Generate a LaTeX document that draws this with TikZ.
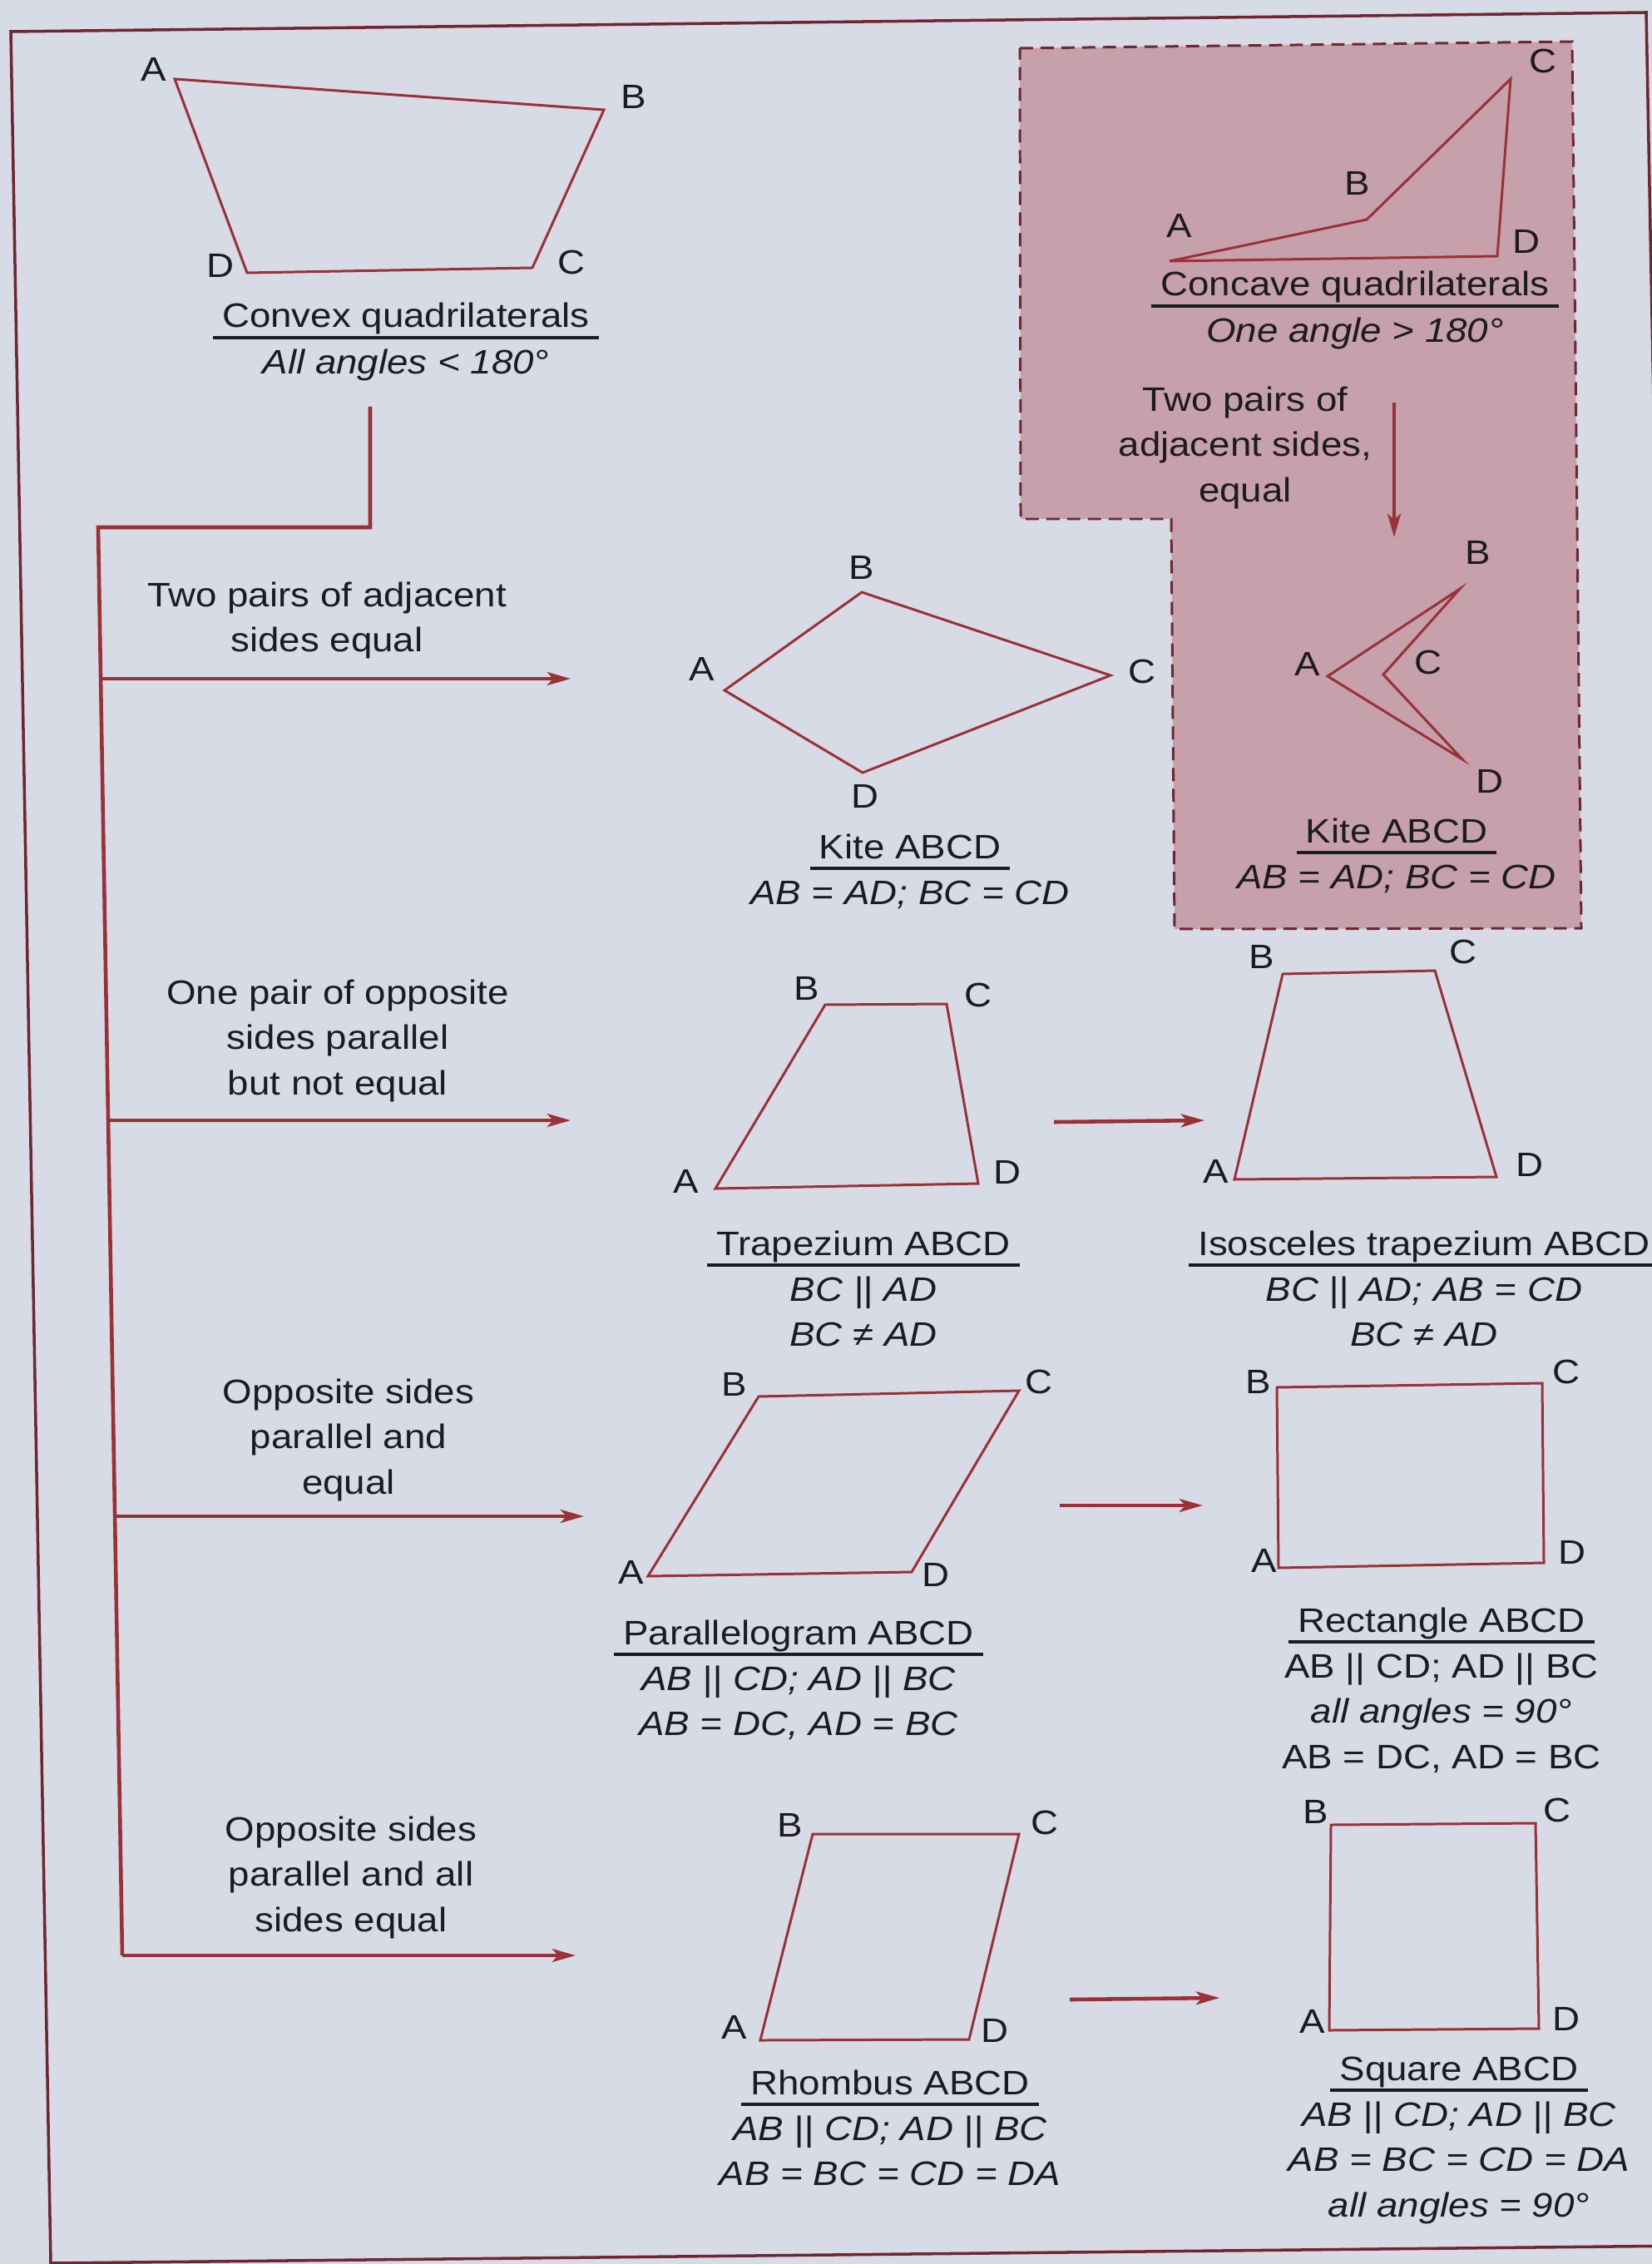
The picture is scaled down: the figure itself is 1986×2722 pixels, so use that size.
\documentclass[tikz,border=0pt]{standalone}
\usepackage{fontspec}
\setmainfont{Liberation Sans}[FakeStretch=1.12]
\usepackage{tikz}
\usetikzlibrary{arrows.meta, calc, positioning}

\definecolor{redline}{RGB}{155,48,55}
\definecolor{darkred}{RGB}{112,38,50}
\definecolor{paper}{RGB}{215,219,230}
\definecolor{pinkfill}{RGB}{198,160,170}
\definecolor{ink}{RGB}{28,28,32}

\tikzset{
  shapeline/.style={redline, line width=0.85pt},
  flow/.style={redline, line width=1.3pt},
  flowarrow/.style={flow, -{Stealth[length=8pt,width=4.5pt,inset=2pt]}},
  frameline/.style={darkred, line width=1pt},
  concavebox/.style={fill=pinkfill, draw=darkred, line width=0.85pt, dash pattern=on 4.5pt off 2.6pt},
  vlabel/.style={text=ink, inner sep=0pt},
  captitle/.style={text=ink, inner sep=0pt, anchor=base},
  capbody/.style={text=ink, inner sep=0pt, anchor=north, align=center},
  caprule/.style={ink, line width=0.9pt},
  branchtext/.style={text=ink, inner sep=0pt, align=center},
}

% quadrilateral ABCD: name, four vertices, four label positions
\newcommand{\quadfig}[9]{%
  \coordinate (#1A) at (#2); \coordinate (#1B) at (#3);
  \coordinate (#1C) at (#4); \coordinate (#1D) at (#5);
  \draw[shapeline] (#1A) -- (#1B) -- (#1C) -- (#1D) -- cycle;
  \node[vlabel] (#1a) at (#6) {A};
  \node[vlabel] (#1b) at (#7) {B};
  \node[vlabel] (#1c) at (#8) {C};
  \node[vlabel] (#1d) at (#9) {D};
}

% caption: name, baseline of title, title, lines under the rule
\newcommand{\shapecap}[4]{%
  \node[captitle] (#1) at (#2) {#3};
  \draw[caprule] ([shift={(-3pt,-3.4pt)}]#1.base west) -- ([shift={(3pt,-3.4pt)}]#1.base east);
  \node[capbody] (#1body) at ([yshift=-4.65pt]#1.base) {\strut#4};
}

\begin{document}
\begin{tikzpicture}[x=0.01cm, y=-0.01cm, font=\fontsize{11.6}{15.5}\selectfont]
    \useasboundingbox (0,0) rectangle (1986,2722);
    \clip (0,0) rectangle (1986,2722);
    \fill[paper] (0,0) rectangle (1986,2722);

    % Shaded block of the concave quadrilaterals
    \draw[concavebox] (1226,58) -- (1890,50) -- (1901,1116) -- (1412,1117)
        -- (1408,624) -- (1227,624) -- cycle;

    % Page frame
    \draw[frameline] (13,38) -- (1979,15) -- (2030,2700) -- (61,2721) -- cycle;

    % Convex and concave quadrilaterals
    \quadfig{cv}{210,95}{726,132}{640,322}{297,328}{185,83}{762,116}{687,315}{265,319}
    \shapecap{cvcap}{488,394}{Convex quadrilaterals}{\textit{All angles < 180°}}

    \quadfig{cc}{1406,314}{1643,264}{1816,95}{1800,308}{1418,271}{1632,220}{1855,73}{1835,290}
    \shapecap{cccap}{1629,356}{Concave quadrilaterals}{\textit{One angle > 180°}}

    % Kites
    \quadfig{kt}{871,830}{1036,712}{1335,812}{1037,929}{844,804}{1036,682}{1373,807}{1040,957}
    \shapecap{ktcap}{1094,1032}{Kite ABCD}{\textit{AB = AD; BC = CD}}

    \quadfig{ck}{1596,813}{1755,708}{1663,811}{1758,913}{1572,798}{1777,664}{1717,796}{1791,939}
    \shapecap{ckcap}{1679,1013}{Kite ABCD}{\textit{AB = AD; BC = CD}}

    % Trapeziums
    \quadfig{tz}{860,1429}{992,1208}{1138,1207}{1176,1423}{825,1420}{970,1188}{1176,1196}{1211,1409}
    \shapecap{tzcap}{1038,1509}{Trapezium ABCD}{\textit{BC || AD}\\\textit{BC ≠ AD}}

    \quadfig{it}{1484,1418}{1542,1171}{1725,1167}{1799,1415}{1462,1408}{1517,1150}{1759,1144}{1839,1400}
    \shapecap{itcap}{1712,1509}{Isosceles trapezium ABCD}{\textit{BC || AD; AB = CD}\\\textit{BC ≠ AD}}

    % Parallelogram and rectangle
    \quadfig{pg}{779,1895}{912,1679}{1225,1672}{1096,1890}{759,1890}{883,1664}{1249,1661}{1125,1893}
    \shapecap{pgcap}{960,1977}{Parallelogram ABCD}{\textit{AB || CD; AD || BC}\\\textit{AB = DC, AD = BC}}

    \quadfig{rc}{1537,1885}{1535,1668}{1854,1663}{1856,1879}{1520,1876}{1513,1661}{1883,1649}{1890,1866}
    \shapecap{rccap}{1733,1962}{Rectangle ABCD}{AB || CD; AD || BC\\\textit{all angles = 90°}\\AB = DC, AD = BC}

    % Rhombus and square
    \quadfig{rh}{914,2453}{977,2205}{1225,2205}{1165,2452}{883,2437}{950,2194}{1256,2191}{1196,2441}
    \shapecap{rhcap}{1070,2518}{Rhombus ABCD}{\textit{AB || CD; AD || BC}\\\textit{AB = BC = CD = DA}}

    \quadfig{sq}{1598,2441}{1600,2194}{1846,2192}{1850,2439}{1578,2430}{1582,2178}{1872,2176}{1883,2427}
    \shapecap{sqcap}{1754,2501}{Square ABCD}{\textit{AB || CD; AD || BC}\\\textit{AB = BC = CD = DA}\\\textit{all angles = 90°}}

    % Flow lines from the convex quadrilaterals
    \coordinate (fork) at (445,489);
    \coordinate (bend) at (445,634);
    \coordinate (trunktop) at (118,634);
    \coordinate (trunkend) at (147,2351);
    \coordinate (br1) at (121,816);   \coordinate (tip1) at (686,816);
    \coordinate (br2) at (130,1347);  \coordinate (tip2) at (686,1347);
    \coordinate (br3) at (138,1823);  \coordinate (tip3) at (702,1823);
    \coordinate (tip4) at (692,2351);

    \draw[flow] (fork) -- (bend) -- (trunktop) -- (trunkend);
    \draw[flowarrow] (br1) -- (tip1);
    \draw[flowarrow] (br2) -- (tip2);
    \draw[flowarrow] (br3) -- (tip3);
    \draw[flowarrow] (trunkend) -- (tip4);

    % Branch labels
    \node[branchtext] (adjtext) at (393,746) {Two pairs of adjacent\\sides equal};
    \node[branchtext] (onepair) at (406,1251) {One pair of opposite\\sides parallel\\but not equal};
    \node[branchtext] (oppeq) at (419,1731) {Opposite sides\\parallel and\\equal};
    \node[branchtext] (allsides) at (422,2257) {Opposite sides\\parallel and all\\sides equal};

    % Arrows between shapes
    \coordinate (ccout) at (1676,484);  \coordinate (ckin) at (1676,646);
    \coordinate (tzout) at (1267,1349); \coordinate (itin) at (1448,1347);
    \coordinate (pgout) at (1274,1810); \coordinate (rcin) at (1446,1810);
    \coordinate (rhout) at (1286,2404); \coordinate (sqin) at (1466,2402);

    \draw[flowarrow] (ccout) -- (ckin);
    \draw[flowarrow] (tzout) -- (itin);
    \draw[flowarrow] (pgout) -- (rcin);
    \draw[flowarrow] (rhout) -- (sqin);

    \node[branchtext] (cctext) at (1497,538) {Two pairs of\\adjacent sides,\\equal};
\end{tikzpicture}
\end{document}
